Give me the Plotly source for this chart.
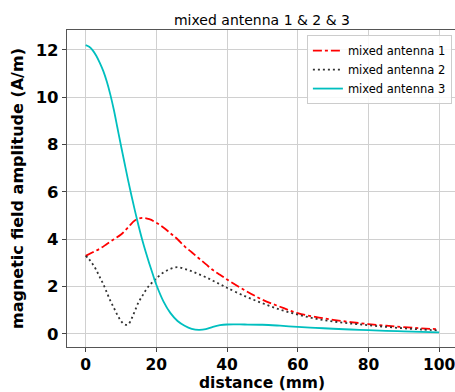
import plotly.graph_objects as go

# distances (mm)
d1 = [0, 2, 4, 6, 8, 10, 12, 14, 16, 18, 20, 22, 24, 26, 28, 30, 32, 34, 36, 38, 40,
      45, 50, 55, 60, 65, 70, 75, 80, 85, 90, 95, 100]
ant1 = [3.3, 3.45, 3.6, 3.8, 4.0, 4.2, 4.5, 4.8, 4.9, 4.85, 4.7, 4.5, 4.25, 4.0, 3.7, 3.45, 3.2,
        2.95, 2.7, 2.5, 2.3, 1.85, 1.45, 1.15, 0.88, 0.72, 0.6, 0.5, 0.42, 0.35, 0.29, 0.24, 0.2]

d2 = [0, 1, 2, 3, 4, 5, 6, 7, 8, 9, 10, 11, 12, 13, 14, 15, 16, 17, 18, 19, 20, 22, 24, 26, 28,
      30, 32, 34, 36, 38, 40, 45, 50, 55, 60, 65, 70, 75, 80, 85, 90, 95, 100]
ant2 = [3.3, 3.15, 2.95, 2.7, 2.4, 2.1, 1.75, 1.4, 1.1, 0.8, 0.55, 0.4, 0.4, 0.65, 1.0, 1.35,
        1.6, 1.85, 2.05, 2.2, 2.35, 2.6, 2.75, 2.82, 2.75, 2.65, 2.52, 2.4, 2.25, 2.1, 1.95,
        1.6, 1.3, 1.03, 0.82, 0.65, 0.53, 0.44, 0.37, 0.3, 0.24, 0.19, 0.15]

d3 = [0, 1, 2, 3, 4, 5, 6, 7, 8, 9, 10, 11, 12, 13, 14, 15, 16, 17, 18, 19, 20, 22, 24, 26, 28,
      30, 32, 34, 36, 38, 40, 45, 50, 55, 60, 65, 70, 75, 80, 85, 90, 95, 100]
ant3 = [12.2, 12.13, 11.98, 11.75, 11.45, 11.1, 10.65, 10.1, 9.45, 8.7, 7.95, 7.22, 6.5, 5.82,
        5.17, 4.55, 3.98, 3.46, 2.98, 2.52, 2.08, 1.38, 0.88, 0.55, 0.35, 0.22, 0.17, 0.2, 0.3,
        0.37, 0.4, 0.4, 0.39, 0.35, 0.3, 0.26, 0.22, 0.19, 0.16, 0.13, 0.11, 0.09, 0.07]

x_ticks = [0, 20, 40, 60, 80, 100]
y_ticks = [0, 2, 4, 6, 8, 10, 12]

FONT = "DejaVu Sans"

fig = go.Figure()
fig.add_trace(go.Scatter(x=d1, y=ant1, mode="lines", name="mixed antenna 1",
                         line=dict(color="#ff0000", width=1.8, dash="dashdot", shape="spline", smoothing=1.0)))
fig.add_trace(go.Scatter(x=d2, y=ant2, mode="lines", name="mixed antenna 2",
                         line=dict(color="#333333", width=1.8, dash="2px,3px", shape="spline", smoothing=1.0)))
fig.add_trace(go.Scatter(x=d3, y=ant3, mode="lines", name="mixed antenna 3",
                         line=dict(color="#00bfbf", width=1.8, shape="spline", smoothing=1.0)))

fig.update_layout(
    width=455, height=392,
    margin=dict(l=67, r=0, t=30, b=45),
    paper_bgcolor="white", plot_bgcolor="white",
    font=dict(family=FONT, color="black"),
    title=dict(text="mixed antenna 1 & 2 & 3", x=262/455, xanchor="center",
               y=1 - 20/392, yanchor="middle", font=dict(size=14, family=FONT)),
    legend=dict(x=0.992, xanchor="right", y=0.984, yanchor="top",
                bgcolor="rgba(255,255,255,0.85)", bordercolor="#cccccc", borderwidth=1,
                font=dict(size=11.5, family=FONT), tracegroupgap=0,
                itemwidth=30),
    showlegend=True,
    annotations=[dict(text="<b>distance (mm)</b>", xref="paper", yref="paper",
                      x=(262 - 67) / 388, y=(347 - 383) / 317, xanchor="center", yanchor="middle",
                      showarrow=False, font=dict(size=15.5, family=FONT, color="black"))],
)
fig.update_xaxes(
    range=[-5.28, 104.5], tickvals=x_ticks, ticktext=[f"<b>{v}</b>" for v in x_ticks],
    tickfont=dict(size=15.5, family=FONT), ticks="outside", ticklen=3.5, tickcolor="#444",
    ticklabeloverflow="allow", automargin=False,
    showgrid=True, gridcolor="#d0d0d0", gridwidth=1.2, zeroline=False,
    showline=True, linecolor="#555", linewidth=1.2, mirror=True,
)
fig.update_yaxes(
    range=[-0.55, 12.84], tickvals=y_ticks, ticktext=[f"<b>{v}</b>" for v in y_ticks],
    tickfont=dict(size=16.5, family=FONT), ticks="outside", ticklen=4, tickcolor="#444",
    automargin=False,
    showgrid=True, gridcolor="#d0d0d0", gridwidth=1.2, zeroline=False,
    showline=True, linecolor="#555", linewidth=1.2, mirror=False,
    title=dict(text="<b>magnetic field amplitude (A/m)</b>", font=dict(size=16, family=FONT), standoff=8),
)

fig.write_html("out.html")
